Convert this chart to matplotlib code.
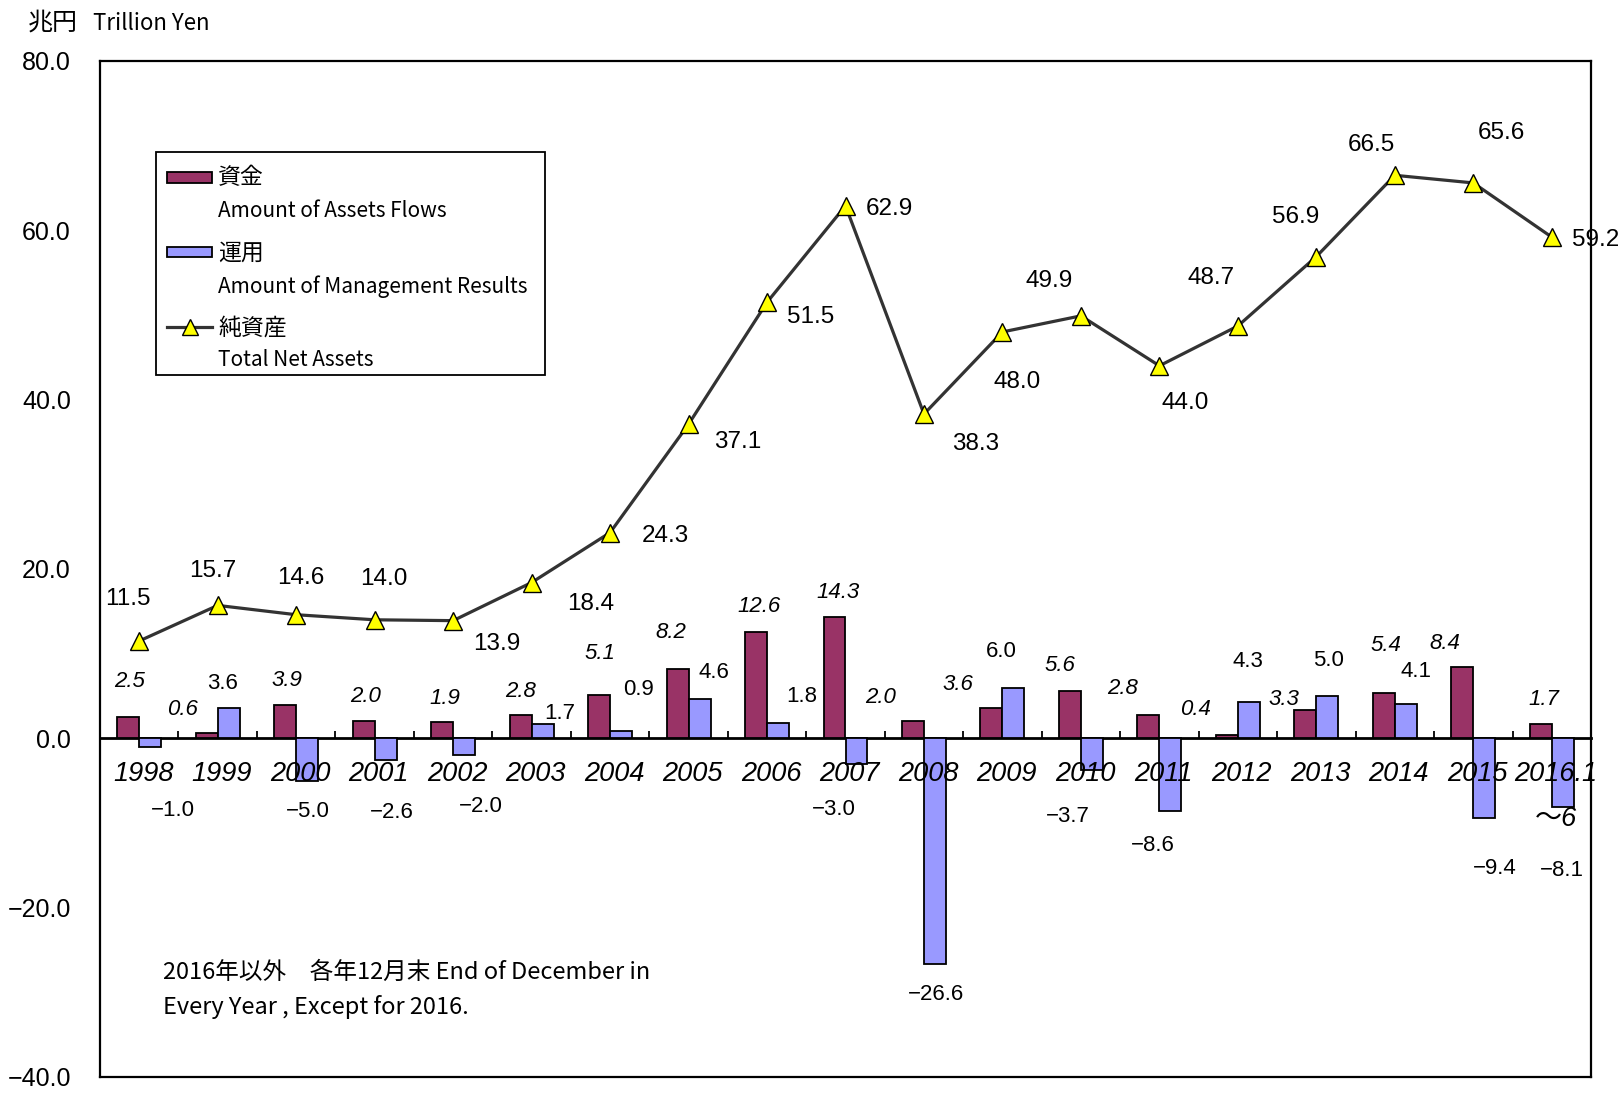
import matplotlib
matplotlib.use("Agg")
import matplotlib.pyplot as plt
from matplotlib import font_manager
from matplotlib.patches import Rectangle
from matplotlib.lines import Line2D
import numpy as np

# ---------------- data ----------------
categories = ["1998", "1999", "2000", "2001", "2002", "2003", "2004", "2005", "2006",
              "2007", "2008", "2009", "2010", "2011", "2012", "2013", "2014", "2015",
              "2016.1\n～6"]
flows = [2.5, 0.6, 3.9, 2.0, 1.9, 2.8, 5.1, 8.2, 12.6, 14.3, 2.0, 3.6, 5.6, 2.8, 0.4,
         3.3, 5.4, 8.4, 1.7]
management = [-1.0, 3.6, -5.0, -2.6, -2.0, 1.7, 0.9, 4.6, 1.8, -3.0, -26.6, 6.0, -3.7,
              -8.6, 4.3, 5.0, 4.1, -9.4, -8.1]
net_assets = [11.5, 15.7, 14.6, 14.0, 13.9, 18.4, 24.3, 37.1, 51.5, 62.9, 38.3, 48.0,
              49.9, 44.0, 48.7, 56.9, 66.5, 65.6, 59.2]
y_ticks = [-40, -20, 0, 20, 40, 60, 80]

# label offsets (pixels) as placed in the original chart
net_off = [(-11, 42), (-5, 34), (5, 37), (9, 41), (44, -23), (59, -21), (55, -3),
           (49, -18), (44, -15), (44, -3), (52, -30), (15, -50), (-32, 35), (26, -37),
           (-27, 48), (-21, 40), (-23, 30), (28, 50), (44, -3)]
flow_off = [(1, 36), (-24, 24), (2, 25), (2, 25), (3, 24), (0, 23), (1, 42), (-7, 36),
            (3, 25), (4, 25), (-32, 24), (-34, 23), (-10, 25), (-26, 26), (-31, 25),
            (-21, 11), (2, 47), (-17, 24), (3, 24)]
mgmt_off = [(23, -64), (-6, 24), (1, -31), (6, -52), (17, -51), (17, 10), (17, 41),
            (14, 27), (24, 27), (-23, -46), (1, -31), (-12, 36), (-24, -47), (-18, -34),
            (-1, 40), (1, 35), (10, 32), (11, -51), (-1, -64)]

# ---------------- fonts ----------------
avail = {f.name for f in font_manager.fontManager.ttflist}
NUM = "Liberation Sans Narrow" if "Liberation Sans Narrow" in avail else "Liberation Sans"
JP = "Noto Sans CJK JP"
plt.rcParams["font.family"] = [NUM, JP, "DejaVu Sans"]

MAROON = "#993366"
BLUE = "#9999FF"

W, H = 1623, 1093
fig = plt.figure(figsize=(W / 100, H / 100), dpi=100)
ax = fig.add_axes([100 / W, 1 - 1077 / H, (1591 - 100) / W, (1077 - 61) / H])

x = np.arange(len(categories))
bw = 0.28
ax.bar(x - bw / 2, flows, bw, color=MAROON, edgecolor="black", linewidth=1.3, zorder=3)
ax.bar(x + bw / 2, management, bw, color=BLUE, edgecolor="black", linewidth=1.3, zorder=3)
ax.plot(x, net_assets, color="#333333", linewidth=2.3, marker="^", markersize=13,
        markerfacecolor="#FFFF00", markeredgecolor="black", markeredgewidth=1.0, zorder=4)

ax.set_xlim(-0.5, len(categories) - 0.5)
ax.set_ylim(-40, 80)
ax.set_yticks(y_ticks)
ax.set_yticklabels([f"{v:.1f}".replace("-", "\u2212") for v in y_ticks],
                   fontsize=18, family=[NUM, "DejaVu Sans"])
ax.tick_params(axis="y", length=0, pad=21)
ax.set_xticks([])
for s in ax.spines.values():
    s.set_linewidth(1.6)

# category axis at zero
sec = ax.secondary_xaxis(1 / 3)
sec.set_xticks(np.arange(len(categories) - 1) + 0.5)
sec.set_xticklabels([])
sec.tick_params(direction="in", length=5, width=1.3)
sec.spines["bottom"].set_linewidth(2)

for i, c in enumerate(categories):
    ax.annotate(c, (i, 0), xytext=(4, -23), textcoords="offset pixels",
                ha="center", va="top", fontsize=19.5, style="italic",
                family=[NUM, JP], linespacing=1.95, zorder=6)

def fmt(v):
    return f"{v:.1f}".replace("-", "\u2212")

for i, v in enumerate(net_assets):
    ax.annotate(fmt(v), (i, v), xytext=net_off[i], textcoords="offset pixels",
                ha="center", va="center", fontsize=17.5, zorder=6)
for i, v in enumerate(flows):
    ax.annotate(fmt(v), (i - bw / 2, v), xytext=flow_off[i], textcoords="offset pixels",
                ha="center", va="center", fontsize=16, style="italic", zorder=6)
for i, v in enumerate(management):
    ax.annotate(fmt(v), (i + bw / 2, v), xytext=mgmt_off[i], textcoords="offset pixels",
                ha="center", va="center", fontsize=16, zorder=6,
                family=[NUM, "DejaVu Sans"])

# ---------------- legend (manual) ----------------
def fx(p):
    return p / W

def fy(p):
    return 1 - p / H

fig.patches.append(Rectangle((fx(156), fy(375)), fx(545) - fx(156), fy(152) - fy(375),
                             transform=fig.transFigure, facecolor="white",
                             edgecolor="black", linewidth=1.3, zorder=10))
fig.patches.append(Rectangle((fx(167), fy(183)), fx(212) - fx(167), fy(172) - fy(183),
                             transform=fig.transFigure, facecolor=MAROON,
                             edgecolor="black", linewidth=1.3, zorder=11))
fig.patches.append(Rectangle((fx(167), fy(257)), fx(212) - fx(167), fy(247) - fy(257),
                             transform=fig.transFigure, facecolor=BLUE,
                             edgecolor="black", linewidth=1.3, zorder=11))
fig.add_artist(Line2D([fx(167), fx(212)], [fy(327), fy(327)], transform=fig.transFigure,
                      color="#333333", linewidth=2.3, zorder=11))
fig.add_artist(Line2D([fx(190)], [fy(327)], transform=fig.transFigure, marker="^",
                      markersize=12, markerfacecolor="#FFFF00", markeredgecolor="black",
                      markeredgewidth=1.0, zorder=12))
leg_txt = [("資金", 178, 16.5), ("Amount of Assets Flows", 211, 15), ("運用", 253, 16.5),
           ("Amount of Management Results", 287, 15), ("純資産", 328, 16.5),
           ("Total Net Assets", 360, 15)]
for t, yy, fs in leg_txt:
    fig.text(fx(218), fy(yy), t, ha="left", va="center", fontsize=fs,
             family=[JP, "DejaVu Sans"], zorder=12)

# ---------------- other texts ----------------
fig.text(fx(28), fy(23), "兆円", ha="left", va="center", fontsize=18, family=[JP])
fig.text(fx(93), fy(23), "Trillion Yen", ha="left", va="center", fontsize=16,
         family=[JP])
fig.text(fx(163), fy(972), "2016年以外　各年12月末 End of December in", ha="left",
         va="center", fontsize=17, family=[JP])
fig.text(fx(163), fy(1007), "Every Year , Except for 2016.", ha="left", va="center",
         fontsize=17, family=[JP])

fig.savefig("out.png", dpi=100)
